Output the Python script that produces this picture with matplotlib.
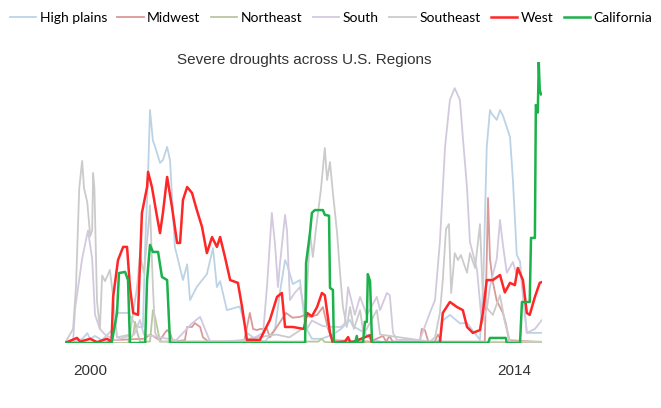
import numpy as np
import matplotlib.pyplot as plt

# weeks as (years since 2000, % of region in severe drought)
high_plains_x = [0.06, 0.37, 0.60, 0.75, 0.84, 0.99, 1.20, 1.55, 1.67, 2.01, 2.29, 2.47, 2.54, 2.63, 2.69, 2.78, 2.85, 3.00, 3.09, 3.22, 3.31, 3.46, 3.71, 3.84, 3.93, 4.14, 4.45, 4.64, 4.76, 4.86, 5.07, 5.41, 5.47, 5.69, 6.00, 6.25, 6.56, 6.71, 6.87, 6.93, 7.11, 7.33, 7.49, 7.70, 8.00, 8.35, 8.60, 8.88, 8.97, 9.34, 9.50, 9.81, 11.50, 11.66, 11.75, 11.97, 12.28, 12.50, 12.90, 13.00, 13.11, 13.21, 13.27, 13.42, 13.52, 13.61, 13.83, 13.92, 14.04, 14.14, 14.35, 14.82]
high_plains = [0, 0.5, 1.5, 3.5, 1.5, 2.5, 1.0, 5, 10.7, 10.7, 5.7, 5.7, 34.2, 60, 82.9, 72, 69.8, 64.1, 65.1, 69.8, 65, 34.2, 22.4, 28, 15.3, 20, 24.5, 33.8, 19.9, 22, 11.7, 12.8, 13, 3.6, 1, 0.5, 5, 18, 29.5, 28, 21, 22.4, 6, 1.5, 1.5, 3, 5, 8.2, 6, 3.6, 1.5, 0.5, 0.5, 1.1, 8, 10, 7, 7.1, 1.1, 20, 69.8, 82.9, 81.5, 79.4, 82.9, 81, 73.3, 58, 31.3, 29, 3.6, 3.6]

midwest_x = [0.06, 1.30, 1.50, 2.50, 2.70, 3.00, 3.15, 3.22, 3.31, 3.40, 3.77, 3.84, 3.99, 4.08, 4.24, 4.33, 4.50, 5.60, 5.78, 5.88, 6.00, 6.10, 6.31, 6.40, 6.90, 7.10, 7.33, 7.49, 7.64, 7.86, 8.04, 8.20, 8.35, 9.50, 9.90, 10.00, 10.10, 10.20, 11.04, 11.10, 11.20, 11.30, 11.50, 11.60, 11.70, 13.05, 13.11, 13.15, 13.21, 13.30, 13.42, 13.61, 13.70, 13.80, 14.82]
midwest = [0, 0, 1, 1.5, 3, 1, 3.6, 4.6, 3.6, 0.5, 1, 5.7, 5.7, 7.1, 5.7, 2, 0.5, 0.5, 10.7, 5, 4.6, 5, 5, 2, 10.7, 9, 9.3, 10, 9.3, 10, 12.8, 5, 1, 0.5, 2.5, 0.5, 2.5, 0.5, 0.5, 5, 4.5, 0.5, 0.5, 3, 0.5, 0.5, 30, 51.6, 30, 21.7, 15, 10.7, 7, 1, 0.3]

northeast_x = [0.06, 2.00, 2.17, 2.23, 2.29, 2.38, 2.69, 2.78, 2.85, 2.91, 3.00, 7.90, 8.00, 8.10, 14.82]
northeast = [0, 0, 3, 7.5, 4, 0.5, 0.5, 11.7, 9, 5.7, 0.5, 0.5, 1.5, 0.3, 0.3]

south_x = [0.06, 0.31, 0.37, 0.59, 0.77, 0.90, 0.99, 1.14, 1.30, 1.61, 2.20, 2.38, 2.50, 3.50, 3.99, 4.24, 4.39, 4.55, 5.50, 5.94, 6.19, 6.31, 6.46, 6.56, 6.65, 6.71, 6.87, 6.93, 7.02, 7.18, 7.33, 7.49, 7.55, 7.70, 8.04, 8.35, 8.60, 8.72, 8.82, 9.03, 9.19, 9.40, 9.71, 9.81, 10.02, 10.11, 10.21, 10.33, 11.04, 11.35, 11.51, 11.66, 11.82, 11.97, 12.12, 12.28, 12.37, 12.50, 12.59, 12.81, 12.96, 13.11, 13.21, 13.42, 13.52, 13.61, 13.73, 13.92, 14.04, 14.14, 14.35, 14.60, 14.82]
south = [0, 0.5, 12, 30, 40, 30, 10, 5, 3, 1, 3, 8.2, 3, 1, 7, 9.3, 5, 0.5, 0.5, 2, 3.6, 20, 46.3, 35, 19.9, 28, 45.6, 40, 15.3, 18, 19.9, 10.7, 5, 8, 6, 5.7, 5.7, 7, 19.9, 10, 16.4, 10, 16.4, 11.7, 17.8, 17, 3.6, 1.1, 1.1, 10.7, 15.3, 35.9, 69.8, 86.5, 90.7, 86.5, 73.3, 55.2, 36, 26, 7, 12, 20, 30, 43.8, 35, 25, 28.8, 24, 27, 3.6, 5, 8.2]

southeast_x = [0.06, 0.31, 0.40, 0.50, 0.59, 0.65, 0.75, 0.84, 0.90, 0.93, 0.97, 1.05, 1.14, 1.21, 1.30, 1.45, 1.55, 1.67, 2.07, 2.29, 2.38, 2.50, 2.63, 2.69, 2.78, 2.85, 3.00, 5.00, 5.50, 6.00, 6.60, 7.00, 7.49, 7.64, 7.73, 7.82, 7.98, 8.10, 8.17, 8.26, 8.35, 8.48, 8.57, 8.66, 8.78, 8.88, 9.00, 9.19, 9.30, 9.71, 9.81, 11.35, 11.51, 11.66, 11.75, 11.85, 11.94, 12.01, 12.12, 12.22, 12.31, 12.50, 12.59, 12.75, 12.90, 12.99, 13.11, 13.30, 13.52, 13.67, 13.83, 14.82]
southeast = [0, 5, 20, 55, 64.8, 55, 50, 38, 40, 60.5, 55, 15, 5, 24, 22, 26, 16.4, 2, 3, 20, 31, 25, 40, 49, 20, 3.6, 0.5, 0.5, 1, 2, 3, 2, 5.7, 39.1, 30.6, 40, 54.8, 69.4, 58, 64.4, 53.4, 39.1, 24.9, 12.8, 5.7, 12.8, 5, 11.7, 3, 11.7, 3, 0.5, 2, 10.7, 22.4, 40.6, 42.3, 17.8, 32, 29.5, 31.3, 25, 32, 26.7, 42.3, 17, 12.5, 10, 17, 7.5, 0.5, 0.5]

west_x = [0.06, 0.43, 0.53, 0.84, 1.05, 1.36, 1.50, 1.55, 1.70, 1.86, 1.98, 2.07, 2.17, 2.32, 2.44, 2.60, 2.63, 2.75, 2.91, 3.00, 3.09, 3.22, 3.37, 3.53, 3.62, 3.71, 3.84, 3.99, 4.14, 4.30, 4.45, 4.61, 4.76, 4.86, 5.01, 5.17, 5.41, 5.54, 5.69, 6.09, 6.40, 6.62, 6.77, 6.87, 7.11, 7.45, 7.55, 7.70, 7.86, 8.01, 8.10, 8.26, 8.35, 8.72, 8.82, 8.90, 9.50, 9.56, 11.66, 11.75, 11.97, 12.19, 12.37, 12.50, 12.68, 12.90, 12.99, 13.11, 13.30, 13.52, 13.67, 13.83, 13.98, 14.07, 14.23, 14.35, 14.44, 14.60, 14.75, 14.82]
west = [0, 1.8, 0.5, 1.5, 0.3, 1.5, 0.5, 16.4, 29.5, 34.2, 34.2, 19.9, 10.7, 10, 46.3, 55.5, 60.9, 55.5, 44.8, 39.1, 46.3, 59.1, 48.4, 35.6, 35.6, 50.9, 55.5, 53.4, 47.3, 41.3, 32, 37.7, 34.2, 37.7, 30.6, 22.4, 21.4, 12.8, 1.1, 1.1, 8.2, 16.4, 17.8, 5.7, 5.7, 5, 10.7, 9.5, 12.8, 17.8, 17, 3.6, 0, 0.5, 2.1, 0, 2.8, 0, 0, 10.7, 14.6, 12.8, 11.7, 5.7, 3.6, 4.6, 10.7, 22.4, 22.4, 24.2, 18, 21.4, 20.6, 26.7, 22.4, 10.7, 10, 16.4, 21.4, 21.7]

california_x = [0.06, 1.50, 1.55, 1.67, 1.73, 1.92, 2.01, 2.07, 2.54, 2.60, 2.69, 2.78, 2.94, 3.06, 3.22, 3.31, 7.49, 7.52, 7.64, 7.70, 7.79, 8.04, 8.10, 8.23, 8.26, 8.35, 8.38, 9.03, 9.09, 9.12, 9.28, 9.34, 9.40, 9.43, 9.50, 9.56, 13.15, 13.21, 13.70, 13.73, 14.14, 14.20, 14.44, 14.48, 14.60, 14.63, 14.69, 14.72, 14.75, 14.79]
california = [0, 0, 3, 10.7, 24.9, 25.3, 22.4, 0, 0, 22.4, 34.9, 32.4, 32.4, 23.5, 22.4, 0, 0, 28.5, 39.1, 46.3, 47.3, 47.3, 45.6, 45.3, 19.6, 18.9, 0, 0, 2.5, 0, 0, 7.5, 7.5, 24.5, 22, 0, 0, 1.8, 1.8, 0, 0, 14.6, 14.6, 37.4, 37.4, 84.7, 82, 100, 90, 88.5]

regions = ['High plains', 'Midwest', 'Northeast', 'South', 'Southeast', 'West', 'California']
colors = ['#bcd3e6', '#d99a98', '#b9c79c', '#d3c9df', '#cbcbcb', '#ff2626', '#1db14b']
series = [(high_plains_x, high_plains), (midwest_x, midwest), (northeast_x, northeast),
          (south_x, south), (southeast_x, southeast), (west_x, west), (california_x, california)]

fig = plt.figure(figsize=(6.61, 4.08), dpi=100)
ax = fig.add_axes([65 / 661, 65 / 408, 477 / 661, 281 / 408])

for name, color, (xs, ys) in zip(regions, colors, series):
    lw = 1.8 if name in ('West', 'California') else 1.3
    ax.plot(2000 + np.array(xs), ys, color=color, lw=lw, label=name)

ax.set_xlim(2000.06, 2014.82)
ax.set_ylim(0, 100)
ax.set_yticks([])
ax.set_xticks([2000.84, 2013.95])
ax.set_xticklabels(['2000', '2014'], fontsize=11, color='#333333', family='Liberation Sans')
ax.tick_params(axis='x', length=0, pad=15)
for s in ax.spines.values():
    s.set_visible(False)

fig.text(304 / 661, 1 - 60 / 408, 'Severe droughts across U.S. Regions', ha='center', va='center',
         fontsize=11, color='#333333', family='Liberation Sans')

fig.legend(loc='upper left', bbox_to_anchor=(0, 0.995), ncol=7, frameon=False,
           prop={'family': 'Lato', 'size': 10}, handlelength=1.9, handletextpad=0.25,
           columnspacing=0.75, borderaxespad=0.3)

fig.savefig('out.png', dpi=100)
